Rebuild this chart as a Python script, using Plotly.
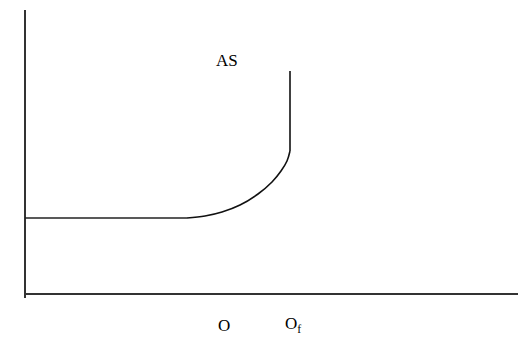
import plotly.graph_objects as go

# Aggregate supply (AS) curve, diagram units (x = output, y = price level)
flat_x = [25, 187]
flat_y = [125, 125]
curve_x = [187, 205, 222, 240, 258, 272, 281, 287, 290]
curve_y = [125, 127, 131, 138, 149, 161, 172, 182, 192]
vert_x = [290, 290]
vert_y = [192, 272]

# Axes
yaxis_x = [25, 25]
yaxis_y = [45, 333]
xaxis_x = [25, 518]
xaxis_y = [49, 49]

labels = ["AS", "O", "O<sub>f</sub>"]
label_x = [227, 224, 293]
label_y = [283, 18, 18]

fig = go.Figure()
fig.add_trace(go.Scatter(x=yaxis_x, y=yaxis_y, mode="lines",
                         line=dict(color="#333333", width=2), hoverinfo="skip"))
fig.add_trace(go.Scatter(x=xaxis_x, y=xaxis_y, mode="lines",
                         line=dict(color="#333333", width=2), hoverinfo="skip"))
fig.add_trace(go.Scatter(x=flat_x, y=flat_y, mode="lines",
                         line=dict(color="#222222", width=1.6)))
fig.add_trace(go.Scatter(x=curve_x, y=curve_y, mode="lines",
                         line=dict(color="#111111", width=1.6, shape="spline", smoothing=1.0)))
fig.add_trace(go.Scatter(x=vert_x, y=vert_y, mode="lines",
                         line=dict(color="#111111", width=1.6)))

for t, x, y in zip(labels, label_x, label_y):
    fig.add_annotation(x=x, y=y, text=t, showarrow=False,
                       font=dict(family="Liberation Serif", size=17, color="#000000"))

fig.update_layout(
    width=527, height=343,
    margin=dict(l=0, r=0, t=0, b=0),
    paper_bgcolor="white", plot_bgcolor="white",
    showlegend=False,
    xaxis=dict(range=[0, 527], visible=False, fixedrange=True),
    yaxis=dict(range=[0, 343], visible=False, fixedrange=True),
)
fig.write_html("out.html")
